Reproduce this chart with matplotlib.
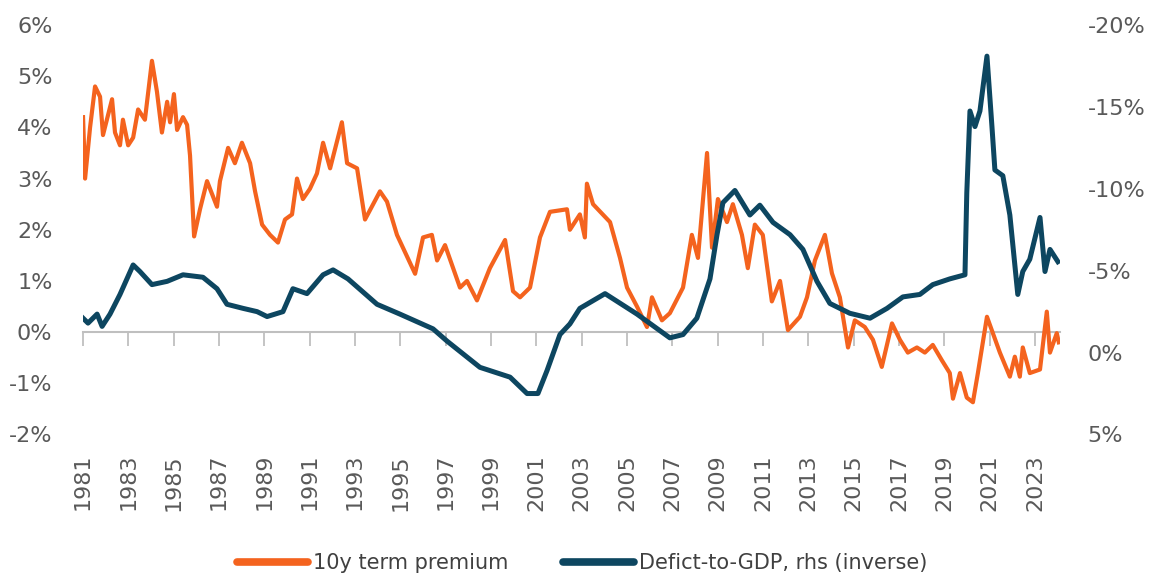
import matplotlib.pyplot as plt
from matplotlib.ticker import FuncFormatter

# 10y term premium (left axis, %)
tp_years = [1981.00, 1981.09, 1981.31, 1981.53, 1981.75, 1981.88, 1982.28, 1982.41, 1982.63, 1982.76,
            1982.99, 1983.21, 1983.43, 1983.73, 1984.04, 1984.26, 1984.48, 1984.71, 1984.84, 1985.01,
            1985.15, 1985.41, 1985.59, 1985.72, 1985.90, 1986.16, 1986.47, 1986.91, 1987.04, 1987.40,
            1987.70, 1988.01, 1988.37, 1988.59, 1988.90, 1989.25, 1989.60, 1989.91, 1990.22, 1990.44,
            1990.70, 1991.01, 1991.32, 1991.59, 1991.90, 1992.42, 1992.65, 1993.09, 1993.44, 1994.10,
            1994.41, 1994.85, 1995.65, 1996.00, 1996.39, 1996.62, 1996.97, 1997.63, 1997.94, 1998.38,
            1998.95, 1999.62, 1999.97, 2000.28, 2000.72, 2001.16, 2001.60, 2002.35, 2002.48, 2002.92,
            2003.14, 2003.23, 2003.50, 2004.25, 2004.69, 2005.00, 2005.44, 2005.88, 2006.10, 2006.54,
            2006.89, 2007.47, 2007.86, 2008.13, 2008.53, 2008.75, 2009.01, 2009.41, 2009.67, 2010.07,
            2010.33, 2010.64, 2010.99, 2011.39, 2011.75, 2012.10, 2012.63, 2012.94, 2013.29, 2013.73,
            2014.04, 2014.39, 2014.75, 2015.05, 2015.49, 2015.85, 2016.24, 2016.69, 2017.04, 2017.39,
            2017.79, 2018.14, 2018.49, 2018.89, 2019.24, 2019.38, 2019.69, 2019.99, 2020.26, 2020.48,
            2020.88, 2021.14, 2021.45, 2021.89, 2022.11, 2022.33, 2022.46, 2022.77, 2023.22, 2023.52,
            2023.66, 2023.96, 2024.05]
tp_values = [4.2, 3.0, 4.0, 4.8, 4.6, 3.85, 4.55, 3.9, 3.65, 4.15,
             3.65, 3.8, 4.35, 4.15, 5.3, 4.7, 3.9, 4.5, 4.1, 4.65,
             3.95, 4.2, 4.05, 3.45, 1.87, 2.4, 2.95, 2.45, 2.95, 3.6,
             3.3, 3.7, 3.3, 2.75, 2.1, 1.9, 1.75, 2.2, 2.3, 3.0,
             2.6, 2.8, 3.1, 3.7, 3.2, 4.1, 3.3, 3.2, 2.2, 2.75,
             2.55, 1.9, 1.14, 1.85, 1.9, 1.4, 1.7, 0.87, 1.0, 0.62,
             1.25, 1.8, 0.8, 0.68, 0.87, 1.85, 2.35, 2.4, 2.0, 2.3,
             1.85, 2.9, 2.5, 2.15, 1.45, 0.87, 0.5, 0.1, 0.68, 0.23,
             0.37, 0.87, 1.9, 1.45, 3.5, 1.65, 2.6, 2.15, 2.5, 1.9,
             1.25, 2.1, 1.9, 0.6, 1.0, 0.04, 0.3, 0.68, 1.4, 1.9,
             1.15, 0.68, -0.3, 0.23, 0.1, -0.15, -0.68, 0.17, -0.15, -0.4,
             -0.3, -0.4, -0.25, -0.55, -0.8, -1.3, -0.8, -1.28, -1.37, -0.8,
             0.3, -0.02, -0.4, -0.87, -0.48, -0.87, -0.3, -0.8, -0.73, 0.4,
             -0.4, -0.02, -0.2]

# Deficit-to-GDP (right axis, inverted, %)
def_years = [1981.00, 1981.22, 1981.62, 1981.84, 1982.19, 1982.63, 1983.21, 1983.51, 1984.04, 1984.71,
             1985.41, 1986.29, 1986.91, 1987.35, 1988.06, 1988.68, 1989.12, 1989.82, 1990.26, 1990.88,
             1991.59, 1992.03, 1992.69, 1993.97, 1994.98, 1996.44, 1997.06, 1998.51, 1999.84, 2000.59,
             2001.07, 2001.47, 2002.04, 2002.48, 2002.92, 2004.03, 2005.44, 2006.89, 2007.47, 2008.08,
             2008.66, 2008.97, 2009.23, 2009.76, 2010.42, 2010.86, 2011.44, 2012.19, 2012.76, 2013.38,
             2013.95, 2014.83, 2015.72, 2016.47, 2017.17, 2017.92, 2018.49, 2019.24, 2019.91, 2019.99,
             2020.13, 2020.35, 2020.57, 2020.88, 2021.10, 2021.23, 2021.58, 2021.89, 2022.24, 2022.46,
             2022.77, 2023.22, 2023.44, 2023.66, 2024.01]
def_values = [-2.1, -1.8, -2.35, -1.6, -2.35, -3.55, -5.35, -4.95, -4.15, -4.35,
              -4.75, -4.6, -3.9, -2.95, -2.7, -2.5, -2.2, -2.5, -3.9, -3.6,
              -4.75, -5.05, -4.5, -2.95, -2.35, -1.45, -0.7, 0.9, 1.5, 2.5,
              2.5, 1.1, -1.1, -1.75, -2.7, -3.6, -2.35, -0.9, -1.1, -2.1,
              -4.5, -7.2, -9.15, -9.9, -8.4, -9.0, -7.95, -7.2, -6.3, -4.35,
              -3.0, -2.4, -2.1, -2.7, -3.4, -3.55, -4.15, -4.5, -4.75, -9.75,
              -14.75, -13.8, -14.75, -18.1, -13.8, -11.15, -10.8, -8.4, -3.55, -4.95,
              -5.7, -8.25, -4.95, -6.3, -5.55]

year_ticks = list(range(1981, 2024, 2))
left_ticks = [-2, -1, 0, 1, 2, 3, 4, 5, 6]
right_ticks = [-20, -15, -10, -5, 0, 5]

orange = '#F4631E'
navy = '#0D4660'
grey_txt = '#595959'
grey_line = '#BFBFBF'

fig = plt.figure(figsize=(11.55, 5.78), dpi=100)
ax = fig.add_axes([0.0719, 0.2483, 0.8458, 0.7084])
ax2 = ax.twinx()

l1, = ax.plot(tp_years, tp_values, color=orange, lw=3.0, solid_joinstyle='round')
l2, = ax2.plot(def_years, def_values, color=navy, lw=3.6, solid_joinstyle='round')

ax.set_xlim(1981, 2024.1)
ax.set_ylim(-2, 6)
ax2.set_ylim(5, -20)

ax.set_yticks(left_ticks)
ax2.set_yticks(right_ticks)
ax.yaxis.set_major_formatter(FuncFormatter(lambda v, p: f'{v:.0f}%'))
ax2.yaxis.set_major_formatter(FuncFormatter(lambda v, p: f'{v:.0f}%'))

ax.set_xticks(year_ticks)
ax.set_xticklabels([str(y) for y in year_ticks], rotation=90)

for a in (ax, ax2):
    for s in a.spines.values():
        s.set_visible(False)
ax.tick_params(axis='x', length=0, pad=14, labelsize=16, labelcolor=grey_txt)
ax.tick_params(axis='y', length=0, pad=22, labelsize=16, labelcolor=grey_txt)
ax2.tick_params(axis='y', length=0, pad=20, labelsize=16, labelcolor=grey_txt)

# horizontal axis line at 0 with tick marks (Excel style)
zero = ax.secondary_xaxis(0.25)
zero.set_xticks(year_ticks)
zero.tick_params(axis='x', length=10, width=1.3, color=grey_line, labelbottom=False)
zero.spines['bottom'].set_color(grey_line)
zero.spines['bottom'].set_linewidth(1.5)
zero.set_zorder(0)
ax.set_zorder(1)
ax2.set_zorder(2)
ax.patch.set_visible(False)

leg = fig.legend([l1, l2], ['10y term premium', 'Defict-to-GDP, rhs (inverse)'],
                 loc='center', bbox_to_anchor=(0.504, 0.026), ncol=2, frameon=False,
                 fontsize=15, handlelength=3.4, handletextpad=0.25, columnspacing=2.6,
                 labelcolor='#404040')
for h in leg.legend_handles:
    h.set_linewidth(5.5)
    h.set_solid_capstyle('round')

fig.savefig('out.png', dpi=100, facecolor='white')
